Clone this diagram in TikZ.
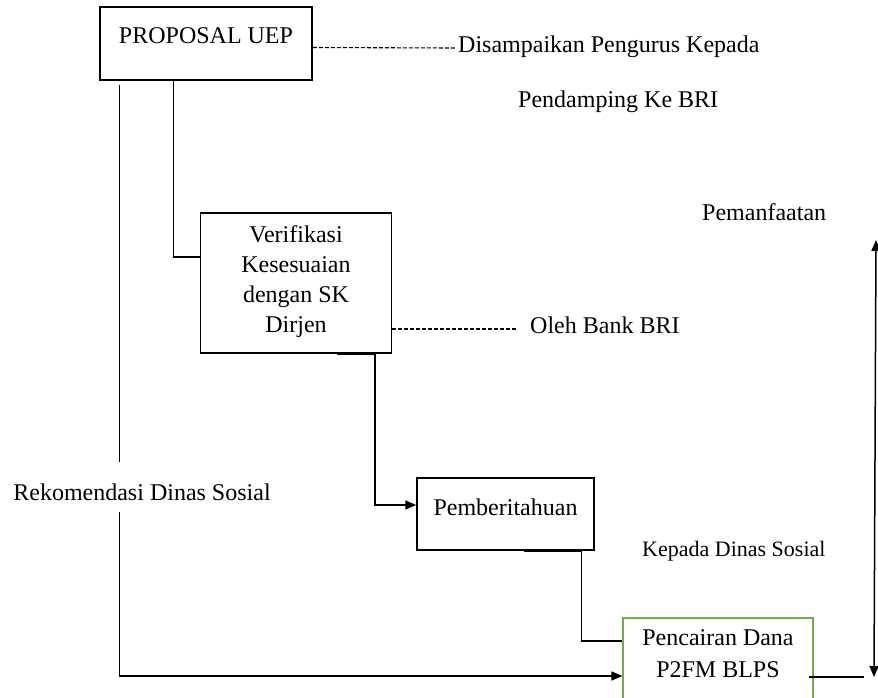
\documentclass[tikz,border=0pt]{standalone}
\usepackage{fontspec}
\setmainfont{Liberation Serif}
\usetikzlibrary{arrows.meta}
\definecolor{p2green}{RGB}{112,173,71}

\begin{document}
\begin{tikzpicture}[x=1pt, y=-1pt, >={Triangle[length=11pt,width=9pt]},
    box/.style={draw, line width=1.5pt, inner sep=0pt, font=\fontsize{24}{30}\selectfont},
    link/.style={line width=1.5pt},
    dashlink/.style={line width=1.1pt, dash pattern=on 4pt off 2pt},
    note/.style={inner sep=0pt, font=\fontsize{24}{30}\selectfont}]

    \clip (0,0) rectangle (878,697);

    % --- Boxes ---
    \node[box, anchor=base, minimum width=212pt, text height=36pt, text depth=37pt] (proposal) at (206,43) {PROPOSAL UEP};
    \node[box, anchor=base, minimum width=191pt, text height=29pt, text depth=111pt] (verif) at (296,242)
        {\begin{tabular}[t]{@{}c@{}}Verifikasi\\Kesesuaian\\dengan SK\\Dirjen\end{tabular}};
    \node[box, anchor=base, minimum width=177pt, text height=37pt, text depth=35pt] (pemb) at (505.5,515) {Pemberitahuan};
    \node[box, draw=p2green, line width=1.2pt, anchor=base, minimum width=190pt, text height=27pt, text depth=80pt,
        font=\fontsize{24}{32}\selectfont] (p2fm) at (718,645)
        {\begin{tabular}[t]{@{}c@{}}Pencairan Dana\\P2FM BLPS\end{tabular}};

    % --- Side notes ---
    \node[note, anchor=base west] (disampaikan) at (458,52) {Disampaikan Pengurus Kepada};
    \node[note, anchor=base west] (pendamping) at (518,107) {Pendamping Ke BRI};
    \node[note, anchor=base west] (olehbri) at (530,333) {Oleh Bank BRI};
    \node[note, anchor=base west] (pemanfaatan) at (702,220) {Pemanfaatan};
    \node[note, anchor=base west, font=\fontsize{22}{26}\selectfont] (kepadadinsos) at (642,556) {Kepada Dinas Sosial};

    % --- Connectors ---
    % proposal straight down to pencairan
    \draw[link, ->] ([xshift=20pt, yshift=-4pt]proposal.south west) |- ([yshift=-31pt]p2fm.base west);
    % proposal to verifikasi
    \draw[link] ([xshift=74pt]proposal.south west) |- ([yshift=-15pt]verif.base west);
    % verifikasi to pemberitahuan
    \draw[link, ->] ([xshift=137pt]verif.south west) -- ([xshift=175pt]verif.south west) |- ([yshift=10pt]pemb.base west);
    % pemberitahuan to pencairan
    \draw[link] ([xshift=108pt]pemb.south west) -- ([xshift=165pt]pemb.south west) |- ([yshift=4pt]p2fm.base west);
    % pencairan to pemanfaatan
    \draw[link] ([xshift=-5pt, yshift=-32pt]p2fm.base east) -- ++(55,0);
    \coordinate (uptip) at (876,240);
    \coordinate (downtip) at (874,677);
    \draw[link, <->] (uptip) -- (downtip);

    % --- Dashed leaders ---
    \draw[dashlink] ([yshift=-4pt]proposal.east) -- ([xshift=-3pt, yshift=4pt]disampaikan.base west);
    \draw[dashlink] ([yshift=-87pt]verif.base east) -- ([xshift=-12pt, yshift=4pt]olehbri.base west);

    % label sitting on the left line
    \node[note, anchor=base, fill=white, text height=38pt, text depth=12pt] (rekomendasi) at (142,500) {Rekomendasi Dinas Sosial};

\end{tikzpicture}
\end{document}
